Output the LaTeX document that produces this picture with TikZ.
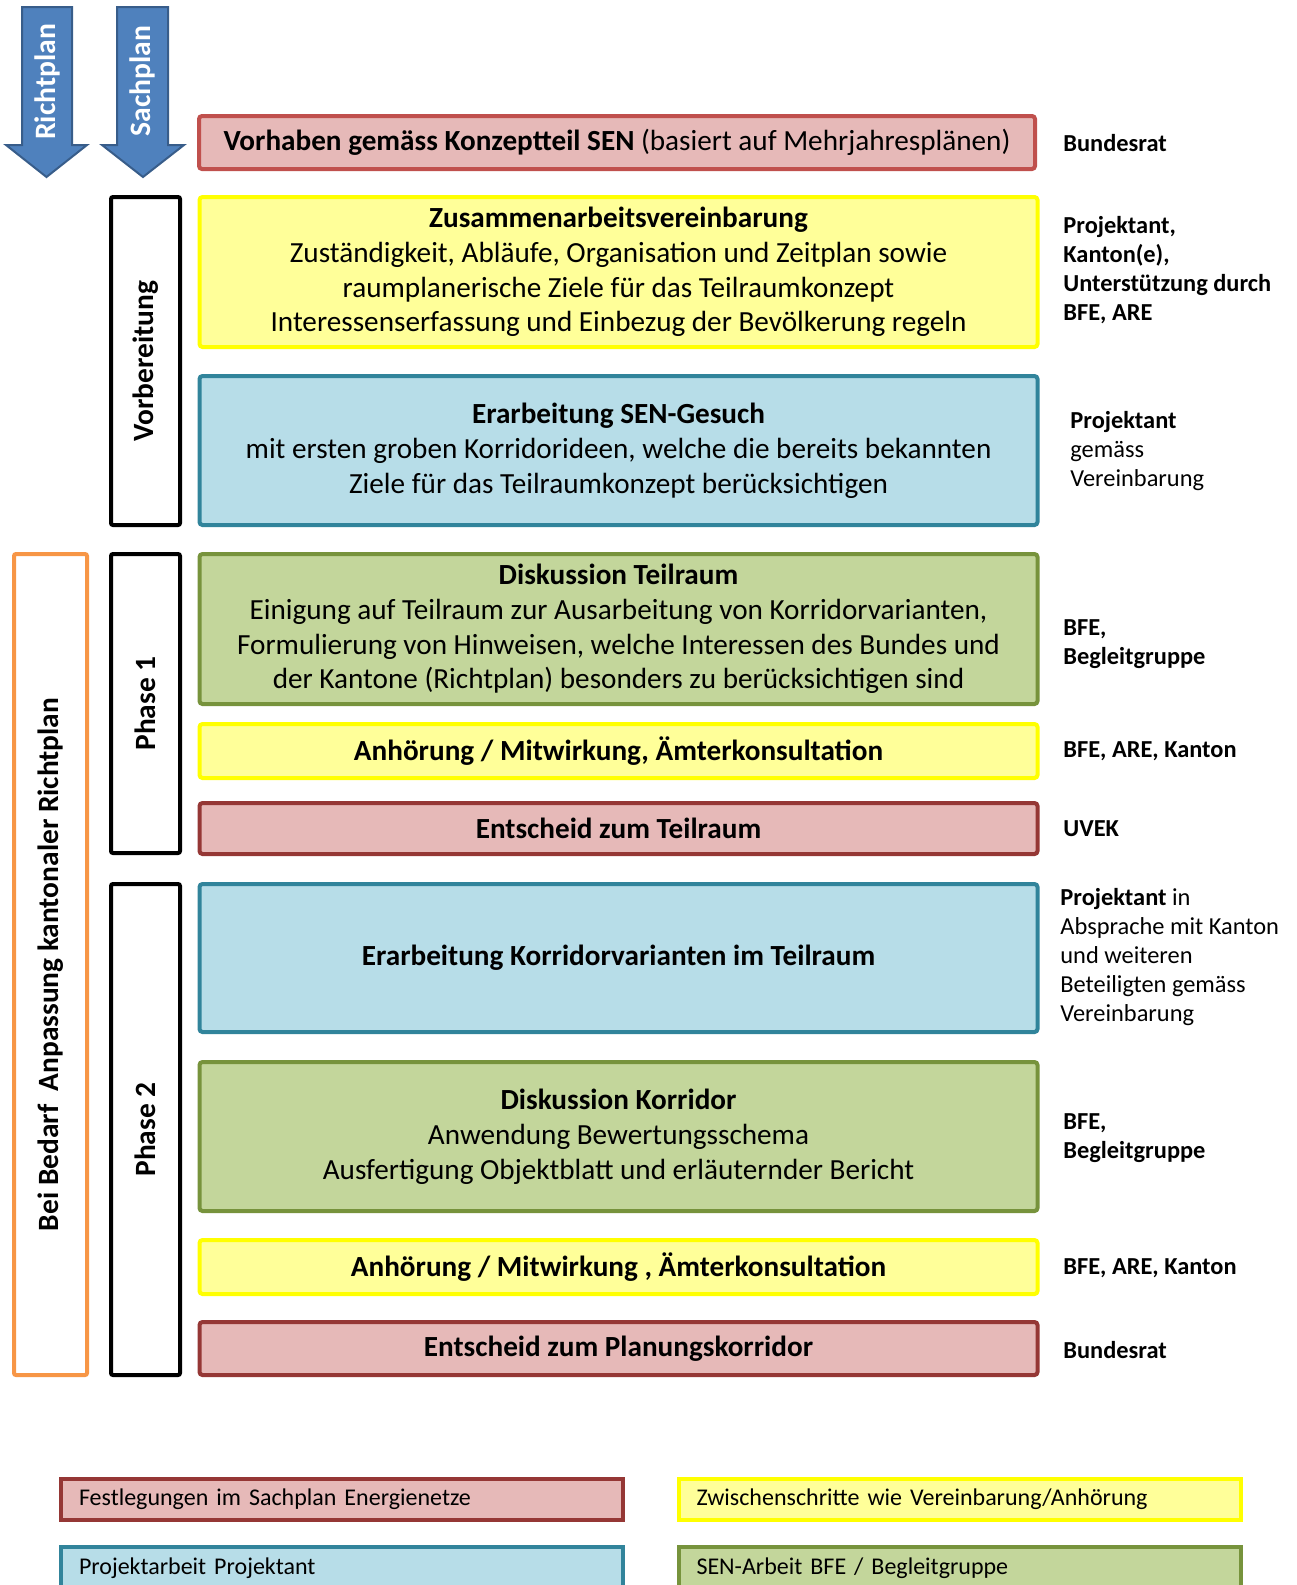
\documentclass[tikz,border=0pt]{standalone}
\usepackage{fontspec}
\setmainfont{Carlito}
\usetikzlibrary{calc}
\definecolor{senfill}{HTML}{E6B9B8}
\definecolor{senline}{HTML}{C0504D}
\definecolor{senlinedark}{HTML}{953735}
\definecolor{stepfill}{HTML}{FFFF99}
\definecolor{stepline}{HTML}{FFFF00}
\definecolor{projfill}{HTML}{B7DDE8}
\definecolor{projline}{HTML}{31849B}
\definecolor{bfefill}{HTML}{C3D69B}
\definecolor{bfeline}{HTML}{77933C}
\definecolor{rplline}{HTML}{F79646}
\definecolor{arrowfill}{HTML}{4F81BD}
\definecolor{arrowline}{HTML}{385D8A}
\newcommand{\mainsize}{\fontsize{14.6}{17.4}\selectfont}
\newcommand{\sidesize}{\fontsize{14.7}{17.4}\selectfont}
\newcommand{\whosize}{\fontsize{12.2}{14.6}\selectfont}
\newcommand{\legsize}{\fontsize{12}{14.6}\selectfont}
\tikzset{
  stepbox/.style={draw, line width=2pt, rounded corners=1.5pt, minimum width=419pt,
    inner sep=0pt, align=center, font=\mainsize},
  senbox/.style={stepbox, fill=senfill, draw=senlinedark},
  zwbox/.style={stepbox, fill=stepfill, draw=stepline},
  projbox/.style={stepbox, fill=projfill, draw=projline},
  bfebox/.style={stepbox, fill=bfefill, draw=bfeline},
  phasebox/.style={draw=black, line width=2pt, rounded corners=1pt, rotate=90,
    minimum height=34.5pt, inner sep=0pt, font=\sidesize\bfseries},
  rplbox/.style={draw=rplline, line width=2pt, rounded corners=1pt, rotate=90,
    minimum height=36.5pt, inner sep=0pt, font=\sidesize\bfseries},
  planarrow/.style={fill=arrowfill, draw=arrowline, line width=1pt},
  plantext/.style={rotate=90, text=white, font=\fontsize{14.8}{17}\selectfont\bfseries},
  who/.style={anchor=west, align=left, inner sep=0pt, font=\whosize},
  legbox/.style={draw, line width=2pt, text width=263pt, inner xsep=9pt, inner ysep=0pt,
    align=left, font=\legsize}
}
\newcommand{\stepnode}[5]{\node[#2, minimum height=#4] (#1) at (618.5,#3) {#5};}
\newcommand{\wholabel}[4]{\node[who] (#1) at (#2,#3) {#4};}

\begin{document}
\begin{tikzpicture}[x=0.5pt,y=-0.5pt]
  \clip (0,0) rectangle (1296,1585);

  % Richtplan / Sachplan
  \draw[planarrow] (22,7) -- (72,7) -- (72,145) -- (87,145) -- (46.5,177) -- (6,145) -- (22,145) -- cycle;
  \node[plantext] (richt) at (47,82) {Richtplan};
  \draw[planarrow] (117,7) -- (168,7) -- (168,145) -- (184,145) -- (143,177) -- (102,145) -- (117,145) -- cycle;
  \node[plantext] (sach) at (142.5,81) {Sachplan};

  % left bars
  \node[phasebox, minimum width=164pt] (vorb) at (145.5,361) {Vorbereitung};
  \node[phasebox, minimum width=149.5pt] (phase1) at (145.5,703.5) {Phase 1};
  \node[phasebox, minimum width=245.5pt] (phase2) at (145.5,1129.5) {Phase 2};
  \node[rplbox, minimum width=410.5pt] (rpl) at (50.5,964.5) {Bei Bedarf\ \ Anpassung kantonaler Richtplan};

  % steps
  \node[senbox, draw=senline, minimum width=418pt, minimum height=26.5pt] (sen) at (617,142.5)
    {\textbf{Vorhaben gemäss Konzeptteil SEN} (basiert auf Mehrjahresplänen)};
  \stepnode{zav}{zwbox}{272}{75pt}{\textbf{Zusammenarbeitsvereinbarung}\\Zuständigkeit, Abläufe, Organisation und Zeitplan sowie\\raumplanerische Ziele für das Teilraumkonzept\\Interessenserfassung und Einbezug der Bevölkerung regeln}
  \stepnode{gesuch}{projbox}{450.5}{74.5pt}{\textbf{Erarbeitung SEN-Gesuch}\\mit ersten groben Korridorideen, welche die bereits bekannten\\Ziele für das Teilraumkonzept berücksichtigen}
  % phase 1
  \stepnode{diskteil}{bfebox}{629}{75pt}{\textbf{Diskussion Teilraum}\\Einigung auf Teilraum zur Ausarbeitung von Korridorvarianten,\\Formulierung von Hinweisen, welche Interessen des Bundes und\\der Kantone (Richtplan) besonders zu berücksichtigen sind}
  \stepnode{anh1}{zwbox}{751}{27pt}{\textbf{Anhörung / Mitwirkung, Ämterkonsultation}}
  \stepnode{entsch1}{senbox}{828.5}{25.5pt}{\textbf{Entscheid zum Teilraum}}
  % phase 2
  \stepnode{korrvar}{projbox}{958}{74pt}{\textbf{Erarbeitung Korridorvarianten im Teilraum}}
  \stepnode{diskkorr}{bfebox}{1136.5}{74.5pt}{\textbf{Diskussion Korridor}\\Anwendung Bewertungsschema\\Ausfertigung Objektblatt und erläuternder Bericht}
  \stepnode{anh2}{zwbox}{1267}{27pt}{\textbf{Anhörung / Mitwirkung , Ämterkonsultation}}
  \stepnode{entsch2}{senbox}{1348.5}{26.5pt}{\textbf{Entscheid zum Planungskorridor}}

  % who
  \wholabel{w1}{1063}{143.5}{\textbf{Bundesrat}}
  \wholabel{w2}{1063}{270}{\textbf{Projektant,}\\\textbf{Kanton(e),}\\\textbf{Unterstützung durch}\\\textbf{BFE, ARE}}
  \wholabel{w3}{1070}{451}{\textbf{Projektant}\\gemäss\\Vereinbarung}
  \wholabel{w4}{1063}{644}{\textbf{BFE,}\\\textbf{Begleitgruppe}}
  \wholabel{w5}{1063}{751}{\textbf{BFE, ARE, Kanton}}
  \wholabel{w6}{1063}{829}{\textbf{UVEK}}
  \wholabel{w7}{1060}{957}{\textbf{Projektant} in\\Absprache mit Kanton\\und weiteren\\Beteiligten gemäss\\Vereinbarung}
  \wholabel{w8}{1063}{1138}{\textbf{BFE,}\\\textbf{Begleitgruppe}}
  \wholabel{w9}{1063}{1268}{\textbf{BFE, ARE, Kanton}}
  \wholabel{w10}{1063}{1350}{\textbf{Bundesrat}}

  % legend
  \node[legbox, fill=senfill, draw=senlinedark, minimum height=20.5pt] (leg1) at (342,1499.5) {Festlegungen im Sachplan Energienetze};
  \node[legbox, fill=stepfill, draw=stepline, minimum height=20.5pt] (leg2) at (959.5,1499.5) {Zwischenschritte wie Vereinbarung/Anhörung};
  \node[legbox, fill=projfill, draw=projline, minimum height=21.5pt] (leg3) at (342,1568.5) {Projektarbeit Projektant};
  \node[legbox, fill=bfefill, draw=bfeline, minimum height=21.5pt] (leg4) at (959.5,1568.5) {SEN-Arbeit BFE / Begleitgruppe};
\end{tikzpicture}
\end{document}
